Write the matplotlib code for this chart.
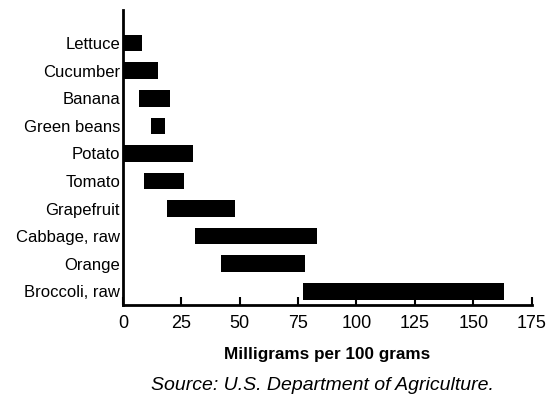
import matplotlib
matplotlib.use('Agg')
import matplotlib.pyplot as plt

plt.rcParams['font.family'] = ['Liberation Sans', 'DejaVu Sans']

foods = ['Lettuce', 'Cucumber', 'Banana', 'Green beans', 'Potato',
         'Tomato', 'Grapefruit', 'Cabbage, raw', 'Orange', 'Broccoli, raw']
low = [0, 0, 7, 12, 0, 9, 19, 31, 42, 77]
high = [8, 15, 20, 18, 30, 26, 48, 83, 78, 163]
xticks = [0, 25, 50, 75, 100, 125, 150, 175]

fig = plt.figure(figsize=(5.51, 4.04), dpi=100)
ax = fig.add_axes([0.223, 0.245, 0.742, 0.730])

widths = [h - l for l, h in zip(low, high)]
ax.barh(range(len(foods)), widths, left=low, height=0.6, color='black')

ax.set_xlim(0, 175)
ax.set_ylim(9.5, -1.2)
ax.set_yticks(range(len(foods)))
ax.set_yticklabels(foods, fontsize=12)
ax.set_xticks(xticks)
ax.set_xticklabels([str(t) for t in xticks], fontsize=13)

ax.tick_params(axis='y', length=0, pad=2)
ax.tick_params(axis='x', direction='in', length=6, width=1.5, pad=7)

for side in ['top', 'right']:
    ax.spines[side].set_visible(False)
for side in ['left', 'bottom']:
    ax.spines[side].set_linewidth(2)

ax.set_xlabel('Milligrams per 100 grams', fontsize=12.3, fontweight='bold', labelpad=11)
fig.text(0.585, 0.045, 'Source: U.S. Department of Agriculture.',
         fontsize=14, style='italic', ha='center', va='center')

fig.savefig('out.png', dpi=100)
